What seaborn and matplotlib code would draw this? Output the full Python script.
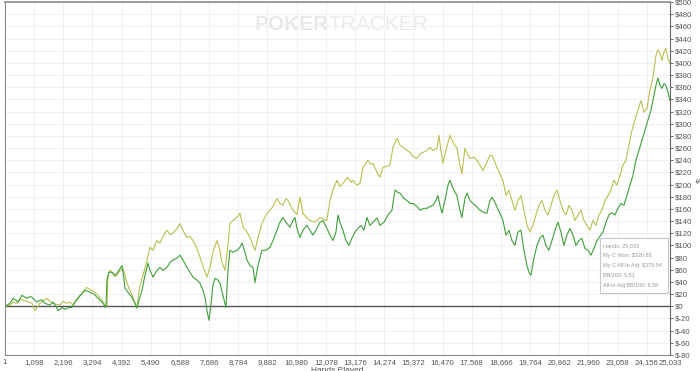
import numpy as np
import pandas as pd
import seaborn as sns
import matplotlib.pyplot as plt
from matplotlib.patches import Rectangle

# All-In Adj winnings (yellow line)
adj_hands = [1, 188, 301, 452, 565, 678, 828, 1016, 1129, 1242, 1317, 1468, 1581, 1694, 1807, 1957,
             2070, 2183, 2334, 2447, 2560, 2710, 2823, 2974, 3086, 3199, 3275, 3388, 3501, 3651, 3764,
             3839, 3877, 3952, 4027, 4140, 4216, 4329, 4442, 4517, 4592, 4705, 4818, 4893, 4968, 5044,
             5157, 5270, 5345, 5458, 5571, 5721, 5834, 5947, 6098, 6211, 6324, 6474, 6587, 6700, 6850,
             6963, 7076, 7227, 7340, 7453, 7603, 7716, 7829, 7980, 8093, 8168, 8281, 8394, 8469, 8582,
             8732, 8845, 8958, 9071, 9222, 9335, 9410, 9523, 9673, 9824, 9975, 10088, 10238, 10351,
             10464, 10577, 10652, 10765, 10840, 10991, 11104, 11217, 11367, 11480, 11668, 11857, 12007,
             12120, 12233, 12346, 12496, 12609, 12722, 12835, 12910, 13023, 13099, 13249, 13362, 13475,
             13588, 13663, 13776, 13852, 14002, 14115, 14228, 14378, 14491, 14604, 14755, 14868, 14981,
             15131, 15244, 15357, 15508, 15621, 15734, 15884, 15997, 16110, 16261, 16336, 16411, 16486,
             16599, 16750, 16863, 17013, 17126, 17201, 17314, 17427, 17503, 17653, 17766, 17879, 17992,
             18142, 18255, 18331, 18444, 18519, 18632, 18745, 18858, 18971, 19083, 19196, 19309, 19422,
             19535, 19648, 19761, 19874, 19987, 20100, 20213, 20326, 20439, 20551, 20664, 20777, 20890,
             21003, 21116, 21229, 21342, 21455, 21567, 21680, 21793, 21906, 22019, 22132, 22245, 22358,
             22471, 22584, 22697, 22810, 22923, 23036, 23149, 23262, 23375, 23487, 23600, 23713, 23826,
             23939, 24052, 24165, 24278, 24391, 24504, 24579, 24654, 24730, 24805, 24880, 24955, 25033]
adj_dollars = [0, 2, 7, 5, 12, 10, 8, 5, -7, 0, 5, 10, 13, 8, 5, 3,
               2, 8, 5, 7, 2, 12, 18, 26, 31, 28, 26, 23, 18, 10, 2,
               0, 51, 59, 56, 49, 51, 59, 62, 51, 38, 26, 15, 5, -2, 26,
               46, 62, 76, 97, 92, 108, 104, 115, 125, 118, 120, 128, 136, 125, 113,
               115, 108, 95, 81, 66, 48, 64, 89, 108, 92, 72, 59, 100, 136, 141,
               146, 153, 130, 125, 113, 100, 92, 112, 136, 150, 158, 164, 177, 169,
               166, 177, 174, 164, 158, 151, 179, 153, 145, 141, 138, 146, 143,
               141, 174, 191, 207, 197, 202, 209, 212, 204, 207, 199, 202, 228,
               235, 240, 233, 235, 220, 212, 228, 230, 232, 261, 276, 265, 261,
               256, 253, 246, 243, 250, 253, 256, 261, 256, 260, 281, 256, 235,
               256, 281, 269, 260, 232, 218, 260, 248, 243, 245, 240, 232, 223,
               237, 248, 248, 237, 228, 218, 207, 182, 191, 174, 158, 174, 182,
               158, 133, 122, 133, 150, 166, 174, 158, 150, 166, 182, 191, 174,
               158, 150, 166, 158, 141, 150, 158, 141, 133, 125, 141, 133, 150,
               158, 174, 182, 191, 207, 199, 215, 232, 240, 265, 289, 306, 322,
               338, 319, 325, 355, 376, 412, 421, 416, 404, 417, 424, 407, 399]

# My C Won (green line)
won_hands = [1, 113, 188, 301, 414, 489, 640, 753, 828, 941, 1016, 1129, 1204, 1317, 1393, 1506,
             1619, 1694, 1807, 1920, 1995, 2070, 2145, 2258, 2334, 2447, 2522, 2635, 2748, 2898, 3011,
             3124, 3199, 3350, 3463, 3576, 3651, 3802, 3839, 3915, 4027, 4140, 4216, 4329, 4404, 4479,
             4517, 4630, 4780, 4893, 4968, 5044, 5157, 5270, 5383, 5458, 5571, 5721, 5834, 5947, 6098,
             6211, 6324, 6474, 6587, 6700, 6850, 6963, 7076, 7227, 7340, 7453, 7528, 7603, 7679, 7754,
             7829, 7904, 8017, 8093, 8206, 8318, 8394, 8469, 8582, 8732, 8845, 8921, 9034, 9109, 9222,
             9335, 9410, 9523, 9673, 9824, 9975, 10088, 10238, 10351, 10464, 10577, 10727, 10840, 10916,
             10991, 11104, 11217, 11367, 11480, 11593, 11744, 11857, 11970, 12120, 12233, 12346, 12459,
             12534, 12609, 12722, 12835, 12948, 13061, 13174, 13287, 13400, 13513, 13626, 13739, 13852,
             14002, 14115, 14266, 14416, 14567, 14680, 14793, 14868, 15018, 15131, 15244, 15357, 15508,
             15621, 15771, 15884, 15997, 16110, 16223, 16298, 16373, 16449, 16562, 16675, 16750, 16863,
             17013, 17126, 17201, 17314, 17390, 17503, 17616, 17766, 17879, 18030, 18142, 18255, 18331,
             18444, 18519, 18632, 18745, 18858, 18971, 19083, 19196, 19309, 19422, 19535, 19648, 19724,
             19799, 19912, 20025, 20137, 20250, 20363, 20476, 20589, 20702, 20815, 20928, 21041, 21154,
             21267, 21380, 21492, 21605, 21718, 21831, 21944, 22057, 22170, 22283, 22396, 22509, 22622,
             22735, 22848, 22960, 23074, 23186, 23299, 23412, 23525, 23638, 23751, 23864, 23977, 24090,
             24203, 24316, 24429, 24504, 24579, 24654, 24730, 24805, 24880, 24955, 25033]
won_dollars = [0, 3, 5, 13, 10, 7, 18, 15, 13, 16, 15, 10, 7, 10, 10, 5,
               3, 2, 7, 0, -7, -5, -2, -5, -3, -2, -2, 7, 13, 21, 26,
               25, 23, 20, 15, 10, 7, -2, 43, 56, 56, 51, 54, 62, 67, 46,
               30, 23, 15, 5, -3, 10, 26, 51, 71, 59, 48, 59, 64, 59, 64,
               72, 76, 79, 84, 76, 64, 56, 48, 43, 38, 26, 15, -7, -23, 2,
               35, 46, 43, 38, 18, -2, 59, 92, 89, 92, 97, 104, 89, 76, 67,
               64, 39, 67, 92, 92, 97, 108, 125, 138, 146, 138, 130, 141, 146,
               128, 113, 125, 133, 125, 117, 128, 138, 141, 128, 117, 108, 122,
               150, 138, 125, 108, 100, 112, 122, 128, 133, 125, 146, 133, 138,
               145, 133, 138, 150, 158, 191, 187, 186, 177, 174, 169, 169, 164,
               158, 161, 161, 164, 166, 174, 182, 166, 153, 174, 199, 207, 194,
               182, 158, 146, 177, 186, 174, 169, 163, 158, 154, 153, 174, 179,
               171, 163, 153, 141, 117, 125, 108, 100, 122, 125, 92, 67, 56,
               51, 79, 100, 112, 117, 100, 92, 108, 125, 138, 122, 100, 117,
               128, 117, 100, 108, 112, 95, 92, 84, 95, 108, 115, 122, 138,
               150, 154, 150, 161, 169, 166, 182, 199, 215, 240, 256, 273, 289,
               306, 322, 347, 363, 375, 363, 358, 366, 363, 352, 338]

x_ticks = [1, 1098, 2196, 3294, 4392, 5490, 6588, 7686, 8784, 9882, 10980, 12078, 13176,
           14274, 15372, 16470, 17568, 18666, 19764, 20862, 21960, 23058, 24156, 25033]
y_ticks = list(range(-80, 501, 20))
tooltip_lines = ["Hands: 25,033", "My C Won: $320.68", "My C All-In Adj: $375.54",
                 "BB/100: 5.51", "All-In Adj BB/100: 6.58"]

adj = pd.DataFrame({"hands": adj_hands, "dollars": adj_dollars})
won = pd.DataFrame({"hands": won_hands, "dollars": won_dollars})

sns.set_style("white")
plt.rcParams['font.family'] = ['Liberation Sans', 'DejaVu Sans']

fig = plt.figure(figsize=(7, 3.71), dpi=100)
ax = fig.add_axes([5 / 700, 16 / 371, 665 / 700, 353 / 371])

sns.lineplot(data=adj, x="hands", y="dollars", sort=False, estimator=None,
             color="#bcbf50", linewidth=0.8, ax=ax)
sns.lineplot(data=won, x="hands", y="dollars", sort=False, estimator=None,
             color="#3f9f3a", linewidth=0.8, ax=ax)

ax.axhline(0, color="#555555", linewidth=1.0, zorder=1)

ax.set_xlim(1, 25033)
ax.set_ylim(-80, 500)
ax.set_xticks(x_ticks)
ax.set_xticklabels([f"{t:,}" for t in x_ticks])
ax.set_yticks(y_ticks)
ax.set_yticklabels([f"${t}" for t in y_ticks])
ax.yaxis.tick_right()
ax.tick_params(axis="both", labelsize=5.6, colors="#555555", length=2.5, width=0.6, pad=1.2)
ax.tick_params(axis="x", pad=0.6)
ax.grid(True, color="#eeeeee", linewidth=0.6)
ax.set_axisbelow(True)
ax.set_xlabel("")
ax.set_ylabel("")

ax.spines["top"].set_color("#9a9a9a")
ax.spines["top"].set_linewidth(1.4)
ax.spines["right"].set_color("#666666")
ax.spines["right"].set_linewidth(0.8)
ax.spines["left"].set_color("#888888")
ax.spines["left"].set_linewidth(0.8)
ax.spines["bottom"].set_color("#888888")
ax.spines["bottom"].set_linewidth(0.8)

# watermark
ax.text(0.487, 0.935, "POKER", transform=ax.transAxes, ha="right", va="center",
        fontsize=15, fontweight="bold", color="#e9e9e9", zorder=0)
ax.text(0.487, 0.935, "TRACKER", transform=ax.transAxes, ha="left", va="center",
        fontsize=15, color="#ececec", zorder=0)

# tooltip box
ax.add_patch(Rectangle((0.894, 0.175), 0.103, 0.157, transform=ax.transAxes,
                       facecolor="white", edgecolor="#c8c8c8", linewidth=0.8, zorder=5))
for i, line in enumerate(tooltip_lines):
    ax.text(0.899, 0.31 - i * 0.0285, line, transform=ax.transAxes, ha="left", va="center",
            fontsize=4.0, color="#999999", zorder=6)

fig.text(337 / 700, 1 - 366.5 / 371, "Hands Played", ha="center", va="top",
         fontsize=6, color="#555555")
fig.text(697 / 700, 1 - 180 / 371, "$", ha="center", va="center", rotation=270,
         fontsize=6, color="#555555")

fig.savefig("out.png", dpi=100)
